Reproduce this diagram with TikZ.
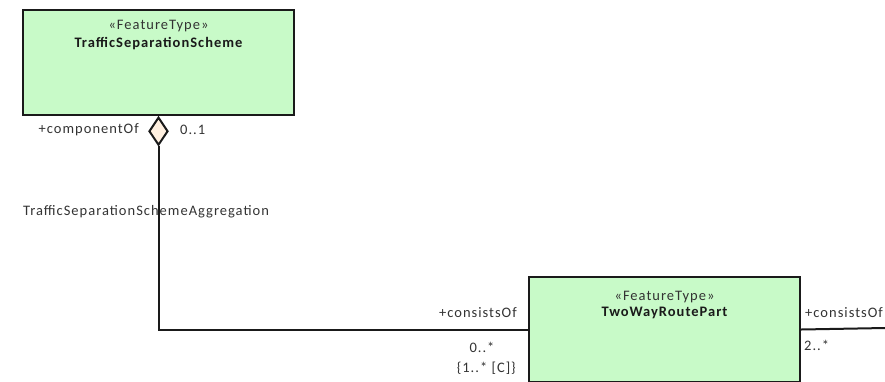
\documentclass[tikz,border=0pt]{standalone}
\usepackage{fontspec}
\setmainfont{Carlito}
\newfontfamily\umlfont[LetterSpace=7]{Carlito}
\usepackage{xcolor}
\usetikzlibrary{positioning,shapes.geometric}
\definecolor{UmlGreen}{HTML}{C8FAC8}
\definecolor{UmlPeach}{HTML}{FFF0E0}
\definecolor{UmlInk}{HTML}{1A1A1A}
\definecolor{UmlText}{HTML}{333333}

\begin{document}
\begin{tikzpicture}[x=1pt,y=-1pt,font=\umlfont\fontsize{14.5}{17}\selectfont,
  classbox/.style={draw=UmlInk,line width=2.4pt,fill=UmlGreen,minimum width=271pt,minimum height=105pt,inner sep=0pt},
  stereo/.style={text=UmlText,inner sep=1pt},
  title/.style={font=\umlfont\fontsize{14.5}{17}\selectfont\bfseries,text=UmlInk,inner sep=1pt},
  assoc/.style={draw=UmlInk,line width=2pt},
  lbl/.style={text=UmlText,inner sep=1pt}]
  \clip (0,0) rectangle (885,381);
  \useasboundingbox (0,0) rectangle (885,381);
  \node[classbox] (tss) at (158.5,62.5) {};
  \node[classbox] (twrp) at (664.5,329.5) {};
  \node[stereo] (tssStereo) at (158.5,26) {«FeatureType»};
  \node[title,below=3pt of tssStereo] (tssName) {TrafficSeparationScheme};
  \node[stereo] (twrpStereo) at (664.5,297) {«FeatureType»};
  \node[title,below=2pt of twrpStereo] (twrpName) {TwoWayRoutePart};
  \node[diamond,draw=UmlInk,line width=2pt,fill=UmlPeach,minimum width=19pt,minimum height=28pt,inner sep=0pt,anchor=north] (agg) at (tss.south) {};
  \coordinate (rightEnd) at (885,328);
  \draw[assoc] (agg.south) |- (twrp.west);
  \draw[assoc] (twrp.east) -- (rightEnd);
  \node[lbl,anchor=east] at (140,130) {+componentOf};
  \node[lbl,anchor=west] at (179,130) {0..1};
  \node[lbl] at (146,212) {TrafficSeparationSchemeAggregation};
  \node[lbl,anchor=east] at (518,313) {+consistsOf};
  \node[lbl] at (482,347) {0..*};
  \node[lbl,anchor=east] at (517,368) {\{1..* [C]\}};
  \node[lbl,anchor=west] at (804,313) {+consistsOf};
  \node[lbl,anchor=west] at (803,345) {2..*};
\end{tikzpicture}
\end{document}
